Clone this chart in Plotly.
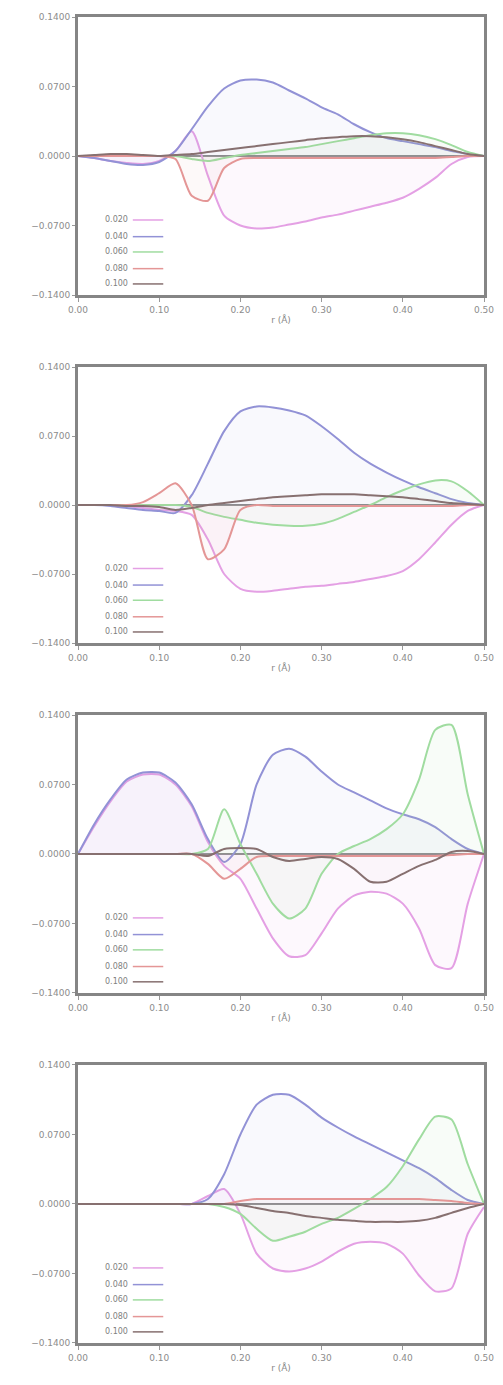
import plotly.graph_objects as go

# ---------------- data ----------------
R = [0.00, 0.02, 0.04, 0.06, 0.08, 0.10, 0.12, 0.14, 0.16, 0.18, 0.20, 0.22, 0.24,
     0.26, 0.28, 0.30, 0.32, 0.34, 0.36, 0.38, 0.40, 0.42, 0.44, 0.46, 0.48, 0.50]

series_names = ["0.020", "0.040", "0.060", "0.080", "0.100"]

p1_pink = [0, -0.002, -0.005, -0.007, -0.008, -0.005, 0.005, 0.025, -0.020, -0.060, -0.070, -0.073, -0.072,
           -0.069, -0.066, -0.062, -0.059, -0.055, -0.051, -0.047, -0.042, -0.033, -0.022, -0.008, -0.001, 0]
p1_blue = [0, -0.002, -0.005, -0.008, -0.009, -0.006, 0.005, 0.027, 0.050, 0.068, 0.076, 0.077, 0.074,
           0.066, 0.058, 0.049, 0.042, 0.032, 0.024, 0.018, 0.015, 0.012, 0.009, 0.005, 0.002, 0]
p1_green = [0, 0, 0, 0, 0, 0, 0, -0.003, -0.005, -0.002, 0.001, 0.003, 0.005,
            0.007, 0.009, 0.012, 0.015, 0.018, 0.021, 0.023, 0.023, 0.021, 0.017, 0.011, 0.004, 0]
p1_red = [0, 0, 0, 0, 0, 0, -0.003, -0.040, -0.045, -0.012, -0.003, -0.002, -0.002,
          -0.002, -0.002, -0.002, -0.002, -0.002, -0.002, -0.002, -0.002, -0.002, -0.002, -0.001, 0, 0]
p1_brown = [0, 0.001, 0.002, 0.002, 0.001, 0, 0.001, 0.002, 0.004, 0.006, 0.008, 0.010, 0.012,
            0.014, 0.016, 0.018, 0.019, 0.020, 0.020, 0.019, 0.017, 0.014, 0.010, 0.006, 0.002, 0]

p2_pink = [0, 0, 0, -0.001, -0.003, -0.005, -0.006, -0.010, -0.035, -0.070, -0.085, -0.088, -0.087,
           -0.085, -0.083, -0.082, -0.080, -0.078, -0.075, -0.072, -0.067, -0.055, -0.038, -0.020, -0.006, 0]
p2_blue = [0, 0, -0.001, -0.003, -0.005, -0.006, -0.008, 0.010, 0.042, 0.075, 0.095, 0.100, 0.099,
           0.096, 0.091, 0.080, 0.067, 0.053, 0.042, 0.033, 0.025, 0.018, 0.012, 0.006, 0.002, 0]
p2_green = [0, 0, 0, 0, 0, 0, 0, -0.002, -0.008, -0.012, -0.015, -0.018, -0.020,
            -0.021, -0.021, -0.019, -0.014, -0.007, 0.000, 0.008, 0.015, 0.021, 0.025, 0.024, 0.014, 0]
p2_red = [0, 0, 0, 0, 0.003, 0.012, 0.022, 0.000, -0.055, -0.045, -0.005, 0.000, -0.001,
          -0.001, -0.001, -0.001, -0.001, -0.001, -0.001, -0.001, -0.001, -0.001, -0.001, -0.001, 0, 0]
p2_brown = [0, 0, 0, -0.001, -0.001, -0.002, -0.005, -0.003, 0, 0.002, 0.004, 0.006, 0.008,
            0.009, 0.010, 0.011, 0.011, 0.011, 0.010, 0.009, 0.008, 0.006, 0.004, 0.002, 0.001, 0]

p3_pink = [0, 0.028, 0.053, 0.073, 0.080, 0.080, 0.070, 0.048, 0.012, -0.012, -0.025, -0.055, -0.085,
           -0.103, -0.102, -0.080, -0.055, -0.042, -0.038, -0.040, -0.050, -0.075, -0.112, -0.115, -0.050, 0]
p3_blue = [0, 0.030, 0.055, 0.075, 0.082, 0.082, 0.072, 0.050, 0.015, -0.008, 0.010, 0.070, 0.100,
           0.106, 0.098, 0.083, 0.070, 0.062, 0.054, 0.046, 0.040, 0.035, 0.027, 0.015, 0.005, 0]
p3_green = [0, 0, 0, 0, 0, 0, 0, 0, 0.005, 0.045, 0.010, -0.020, -0.050,
            -0.065, -0.055, -0.020, 0, 0.008, 0.015, 0.025, 0.040, 0.075, 0.125, 0.130, 0.060, 0]
p3_red = [0, 0, 0, 0, 0, 0, 0, 0, -0.010, -0.025, -0.015, -0.003, -0.002,
          -0.002, -0.002, -0.002, -0.002, -0.002, -0.002, -0.002, -0.002, -0.002, -0.002, -0.001, 0, 0]
p3_brown = [0, 0, 0, 0, 0, 0, 0, 0, -0.002, 0.005, 0.006, 0.005, -0.003,
            -0.007, -0.005, -0.003, -0.005, -0.015, -0.028, -0.028, -0.020, -0.012, -0.006, 0.002, 0.003, 0]

p4_pink = [0, 0, 0, 0, 0, 0, 0, 0, 0.008, 0.015, -0.010, -0.050, -0.065,
           -0.068, -0.065, -0.058, -0.048, -0.040, -0.038, -0.040, -0.050, -0.072, -0.088, -0.085, -0.030, -0.003]
p4_blue = [0, 0, 0, 0, 0, 0, 0, 0, 0.005, 0.030, 0.070, 0.100, 0.110,
           0.110, 0.100, 0.087, 0.077, 0.068, 0.060, 0.052, 0.044, 0.036, 0.026, 0.014, 0.004, 0]
p4_green = [0, 0, 0, 0, 0, 0, 0, 0, 0, -0.003, -0.010, -0.025, -0.037,
            -0.033, -0.028, -0.020, -0.014, -0.005, 0.005, 0.017, 0.038, 0.065, 0.088, 0.085, 0.040, 0]
p4_red = [0, 0, 0, 0, 0, 0, 0, 0, 0, 0, 0.003, 0.005, 0.005,
          0.005, 0.005, 0.005, 0.005, 0.005, 0.005, 0.005, 0.005, 0.005, 0.004, 0.003, 0.001, 0]
p4_brown = [0, 0, 0, 0, 0, 0, 0, 0, 0, 0, -0.001, -0.004, -0.007,
            -0.009, -0.012, -0.014, -0.016, -0.017, -0.018, -0.018, -0.018, -0.017, -0.014, -0.009, -0.004, 0]

panels = [
    [p1_pink, p1_blue, p1_green, p1_red, p1_brown],
    [p2_pink, p2_blue, p2_green, p2_red, p2_brown],
    [p3_pink, p3_blue, p3_green, p3_red, p3_brown],
    [p4_pink, p4_blue, p4_green, p4_red, p4_brown],
]

y_ticks = [-0.14, -0.07, 0.0, 0.07, 0.14]
x_ticks = [0.0, 0.1, 0.2, 0.3, 0.4, 0.5]

# ---------------- style ----------------
line_colors = ["rgb(228,160,228)", "rgb(146,146,214)", "rgb(160,220,160)", "rgb(228,150,150)", "rgb(135,112,112)"]
fill_colors = ["rgba(228,160,228,0.08)", "rgba(146,146,214,0.06)", "rgba(160,220,160,0.08)",
               "rgba(228,150,150,0.06)", "rgba(135,112,112,0.02)"]

domains = [(0.7903, 1.0), (0.5279, 0.7360), (0.2640, 0.4736), (0.0, 0.2097)]

fig = go.Figure()
font_tick = dict(family="DejaVu Sans", size=9, color="#8c8c8c")

leg_rows = [0.27, 0.21, 0.155, 0.095, 0.04]

for i, (series, dom) in enumerate(zip(panels, domains)):
    k = "" if i == 0 else str(i + 1)
    for j, ys in enumerate(series):
        fig.add_trace(go.Scatter(
            x=R, y=ys, mode="lines", xaxis="x" + k, yaxis="y" + k,
            line=dict(color=line_colors[j], width=2, shape="spline", smoothing=0.7),
            fill="tozeroy", fillcolor=fill_colors[j], showlegend=False,
            name=series_names[j]))
    ax = dict(domain=[0, 1], range=[0, 0.5], tickvals=x_ticks, tickformat=".2f",
              tickfont=font_tick, ticks="outside", ticklen=4, tickcolor="#999",
              showgrid=False, zeroline=False, showline=True, linecolor="#858585",
              linewidth=3, mirror=True, anchor="y" + k,
              title=dict(text="r (Å)", font=dict(family="DejaVu Sans", size=9, color="#888"), standoff=3))
    ay = dict(domain=list(dom), range=[-0.14, 0.14], tickvals=y_ticks, tickformat=".4f",
              tickfont=font_tick, ticks="outside", ticklen=3, tickcolor="#999",
              showgrid=False, zeroline=True, zerolinecolor="#8c8c8c", zerolinewidth=2,
              showline=True, linecolor="#858585", linewidth=3, mirror=True, anchor="x" + k)
    fig.layout["xaxis" + k] = ax
    fig.layout["yaxis" + k] = ay
    # gnuplot-style key: text then line sample
    for j in range(5):
        fig.add_annotation(xref="x" + k + " domain", yref="y" + k + " domain",
                           x=0.128, y=leg_rows[j], text=series_names[j], showarrow=False,
                           xanchor="right", yanchor="middle",
                           font=dict(family="DejaVu Sans", size=8, color="#808080"))
        fig.add_shape(type="line", xref="x" + k + " domain", yref="y" + k + " domain",
                      x0=0.135, x1=0.21, y0=leg_rows[j], y1=leg_rows[j],
                      line=dict(color=line_colors[j], width=1.5))

fig.update_layout(width=503, height=1385, margin=dict(l=78, r=9, t=17, b=42),
                  paper_bgcolor="white", plot_bgcolor="white", showlegend=False)

fig.write_html("out.html")
